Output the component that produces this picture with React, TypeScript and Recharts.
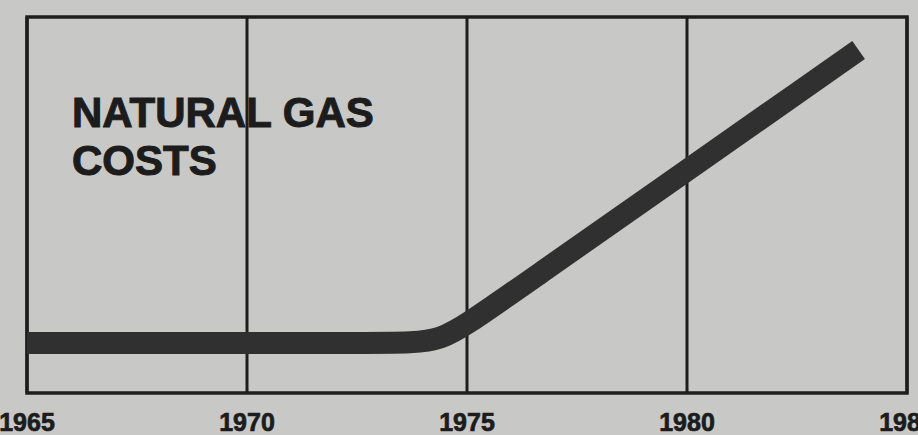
import React from 'react';
import { LineChart, Line, XAxis, YAxis, CartesianGrid, ReferenceArea } from 'recharts';

const years = [1965, 1973.3, 1974.4, 1975.5, 1983.9];
const costs = [50, 50, 50, 84, 343];
const tickYears = [1965, 1970, 1975, 1980, 1985];
const titleLines = ['NATURAL GAS', 'COSTS'];

const data = years.map((y, i) => ({ year: y, cost: costs[i] }));

const FONT = '"Liberation Sans", Arial, Helvetica, sans-serif';
const BG = '#c8c8c6';

export default function App() {
  return (
    <div style={{ position: 'absolute', left: 0, top: 0, width: 918, height: 435, background: BG, overflow: 'hidden' }}>
      <LineChart width={918} height={435} data={data} margin={{ top: 17, right: 11, left: 27, bottom: 0 }}>
        <CartesianGrid horizontal={false} vertical={true} stroke="#1e1e1e" strokeWidth={3} strokeOpacity={1} />
        <XAxis
          dataKey="year"
          type="number"
          domain={[1965, 1985]}
          ticks={tickYears}
          interval={0}
          height={42}
          tickLine={false}
          axisLine={false}
          tickSize={0}
          tickMargin={20}
          tick={{ fontSize: 25, fontWeight: 'bold', fill: '#1c1c1c', stroke: '#1c1c1c', strokeWidth: 0.7, fontFamily: FONT }}
        />
        <YAxis hide domain={[0, 376]} type="number" />
        <ReferenceArea x1={1965} x2={1985} y1={0} y2={376} fill="none" stroke="#1e1e1e" strokeWidth={3.5} ifOverflow="visible" />
        <Line
          type="basis"
          dataKey="cost"
          stroke="#303030"
          strokeWidth={22}
          strokeLinecap="butt"
          dot={false}
          activeDot={false}
          isAnimationActive={false}
        />
      </LineChart>
      <div
        style={{
          position: 'absolute',
          left: 72,
          top: 89,
          fontFamily: FONT,
          fontWeight: 'bold',
          fontSize: 42,
          lineHeight: '48px',
          letterSpacing: 0,
          color: '#1c1c1c',
          WebkitTextStroke: '1px #1c1c1c',
          whiteSpace: 'nowrap',
        }}
      >
        {titleLines.map((t) => (
          <div key={t}>{t}</div>
        ))}
      </div>
    </div>
  );
}
